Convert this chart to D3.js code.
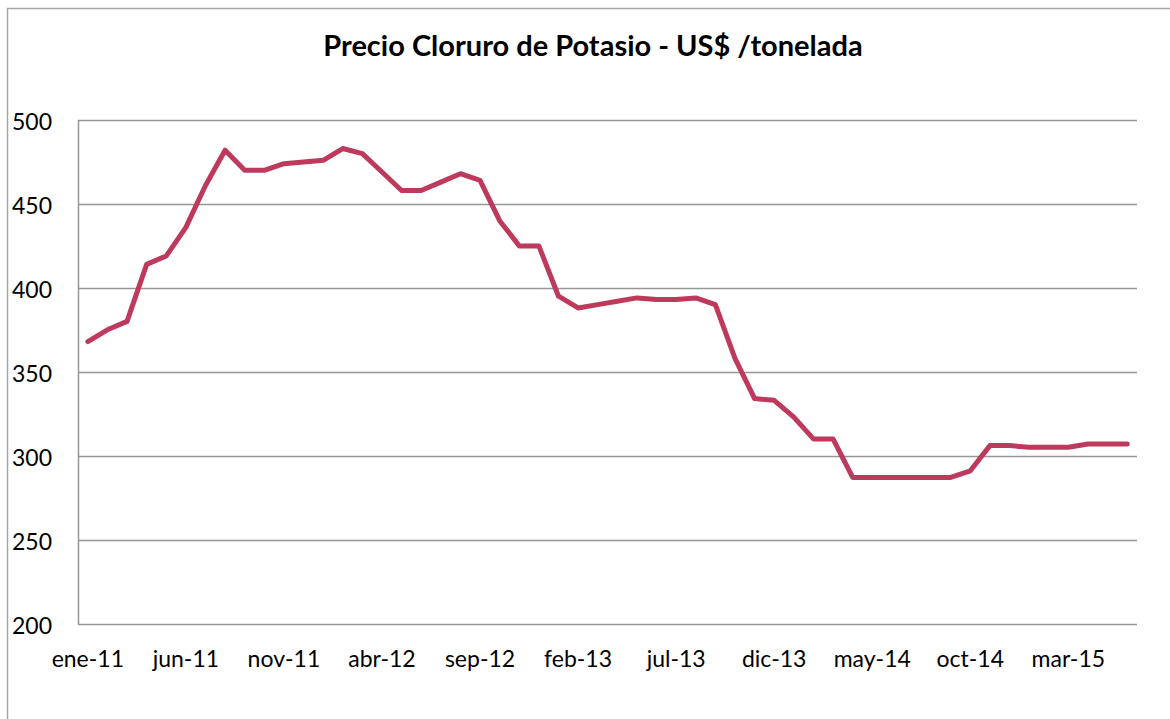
<!DOCTYPE html>
<html>
<head>
<meta charset="utf-8">
<script src="https://cdn.jsdelivr.net/npm/d3@7"></script>
<style>
  body { margin: 0; background: #fff; }
  text { font-family: Lato, "Open Sans", sans-serif; fill: #000; }
</style>
</head>
<body>
<div id="chart"></div>
<script>
// data
var monthNames = ["ene", "feb", "mar", "abr", "may", "jun", "jul", "ago", "sep", "oct", "nov", "dic"];
var years = ["11", "12", "13", "14", "15"];
var months = [];
years.forEach(function (yr) {
  monthNames.forEach(function (m) { months.push(m + "-" + yr); });
});
months = months.slice(0, 54); // ene-11 .. jun-15

var prices = [368, 375, 380, 414, 419, 436, 461, 482, 470, 470,
  474, 475, 476, 483, 480, 469, 458, 458, 463, 468,
  464, 440, 425, 425, 395, 388, 390, 392, 394, 393,
  393, 394, 390, 358, 334, 333, 323, 310, 310, 287,
  287, 287, 287, 287, 287, 291, 306, 306, 305, 305,
  305, 307, 307, 307];

var yTicks = [200, 250, 300, 350, 400, 450, 500];
var title = "Precio Cloruro de Potasio - US$ /tonelada";

// dimensions
var width = 1170;
var height = 719;
var plot = { left: 78, right: 1137, top: 120, bottom: 623.5 };

var svg = d3.select("#chart")
  .append("svg")
    .attr("width", width)
    .attr("height", height);

// outer chart border (top and left visible)
svg.append("path")
  .attr("d", "M7.5," + height + " V8.5 H" + width)
  .attr("fill", "none")
  .attr("stroke", "#a6a6a6")
  .attr("stroke-width", 1.5);

var x = d3.scaleBand()
  .domain(months)
  .range([plot.left, plot.right]);

var y = d3.scaleLinear()
  .domain([200, 500])
  .range([plot.bottom, plot.top]);

// gridlines
svg.append("g")
  .selectAll("line")
  .data(yTicks)
  .enter()
  .append("line")
    .attr("x1", plot.left)
    .attr("x2", plot.right)
    .attr("y1", function (d) { return Math.round(y(d)) + 0.5; })
    .attr("y2", function (d) { return Math.round(y(d)) + 0.5; })
    .attr("stroke", "#969696")
    .attr("stroke-width", 1.5);

// vertical axis line
svg.append("line")
  .attr("x1", plot.left + 0.5)
  .attr("x2", plot.left + 0.5)
  .attr("y1", plot.top)
  .attr("y2", Math.round(y(200)) + 0.5)
  .attr("stroke", "#969696")
  .attr("stroke-width", 1.5);

// y tick labels
svg.append("g")
  .selectAll("text")
  .data(yTicks)
  .enter()
  .append("text")
    .attr("x", 52)
    .attr("y", function (d) { return y(d) + 10; })
    .attr("text-anchor", "end")
    .style("font-size", "23px")
    .text(function (d) { return d; });

// x tick labels, every 5 months
svg.append("g")
  .selectAll("text")
  .data(months.filter(function (d, i) { return i % 5 === 0; }))
  .enter()
  .append("text")
    .attr("x", function (d) { return x(d) + x.bandwidth() / 2; })
    .attr("y", 667)
    .attr("text-anchor", "middle")
    .style("font-size", "23px")
    .text(function (d) { return d; });

// price line
var line = d3.line()
  .x(function (d, i) { return x(months[i]) + x.bandwidth() / 2; })
  .y(function (d) { return y(d); });

svg.append("path")
  .datum(prices)
  .attr("d", line)
  .attr("fill", "none")
  .attr("stroke", "#be3a5c")
  .attr("stroke-width", 5)
  .attr("stroke-linejoin", "round")
  .attr("stroke-linecap", "round");

// title
svg.append("text")
  .attr("x", 593)
  .attr("y", 56)
  .attr("text-anchor", "middle")
  .style("font-size", "29px")
  .style("font-weight", "bold")
  .text(title);
</script>
</body>
</html>
